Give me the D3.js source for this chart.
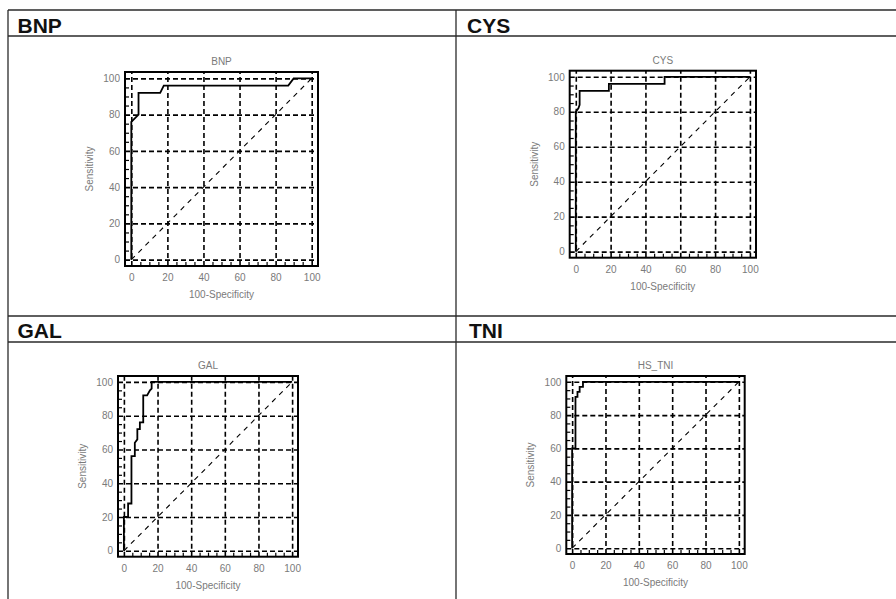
<!DOCTYPE html>
<html>
<head>
<meta charset="utf-8">
<script src="https://cdn.jsdelivr.net/npm/d3@7"></script>
<style>
  body { margin: 0; background: #fff; }
  text { font-family: "Liberation Sans", Arial, sans-serif; }
</style>
</head>
<body>
<div id="chart"></div>
<script>
// Cell headers and the chart titles inside each cell
const panelNames = ["BNP", "CYS", "GAL", "TNI"];
const chartTitles = ["BNP", "CYS", "GAL", "HS_TNI"];

// Axis ticks (both axes use the same)
const ticks = [0, 20, 40, 60, 80, 100];
const minorTicks = [5, 10, 15, 25, 30, 35, 45, 50, 55, 65, 70, 75, 85, 90, 95];

// ROC curves: 100-Specificity (x) and Sensitivity (y)
const bnpX = [0, 0, 4, 4, 16, 18, 87, 90, 100];
const bnpY = [0, 76, 80, 92, 92, 96, 96, 100, 100];

const cysX = [0, 0, 1.5, 2.2, 2.2, 19, 19, 51, 51, 100];
const cysY = [0, 80, 82, 84, 92, 92, 96, 96, 100, 100];

const galX = [0, 0, 2.5, 2.5, 4.5, 4.5, 6.5, 6.5, 8, 8, 9.5, 9.5, 11.5, 11.5, 13.8, 15.5, 16.5, 16.5, 100];
const galY = [0, 20, 20, 28, 28, 56, 56, 64, 66, 72, 72, 76, 76, 92, 92, 95, 96, 100, 100];

const tniX = [0, 0, 2, 2, 3.2, 3.2, 4.5, 4.5, 6.5, 6.5, 100];
const tniY = [0, 60, 60, 91, 91, 94, 94, 97, 97, 100, 100];

const curves = [[bnpX, bnpY], [cysX, cysY], [galX, galY], [tniX, tniY]];

// plot frames (pixel boxes) for the four charts
const frames = [
  { x: 125, y: 72, w: 193, h: 194 },
  { x: 569.7, y: 70.7, w: 186.3, h: 187 },
  { x: 118, y: 376, w: 180, h: 180.7 },
  { x: 566.3, y: 376, w: 178.4, h: 178 }
];
const headerText = [
  { x: 17.5, y: 33 }, { x: 467, y: 33 },
  { x: 17.5, y: 338 }, { x: 469, y: 338 }
];

const width = 896, height = 599;
const svg = d3.select("#chart").append("svg")
  .attr("width", width)
  .attr("height", height);

svg.append("rect").attr("width", width).attr("height", height).attr("fill", "#fff");

// table lines
const tableLine = "#2a2a2a";
const hLines = [10, 36, 316, 342];
hLines.forEach(y => {
  svg.append("line")
    .attr("x1", 8).attr("x2", width).attr("y1", y).attr("y2", y)
    .attr("stroke", tableLine).attr("stroke-width", 1.3);
});
[8, 456].forEach(x => {
  svg.append("line")
    .attr("x1", x).attr("x2", x).attr("y1", 10).attr("y2", height)
    .attr("stroke", tableLine).attr("stroke-width", 1.3);
});

panelNames.forEach((name, i) => {
  svg.append("text")
    .attr("x", headerText[i].x).attr("y", headerText[i].y)
    .attr("font-size", 21).attr("font-weight", "bold").attr("fill", "#111")
    .text(name);
});

const labelColor = "#7a7a7a";

frames.forEach((f, i) => {
  const x = d3.scaleLinear().domain([-3.5, 103.5]).range([f.x, f.x + f.w]);
  const y = d3.scaleLinear().domain([-3.5, 103.5]).range([f.y + f.h, f.y]);
  const g = svg.append("g");

  // grid (dashed) across the whole frame
  g.append("g")
    .attr("transform", `translate(0,${f.y + f.h})`)
    .call(d3.axisBottom(x).tickValues(ticks).tickSize(-f.h).tickFormat(""))
    .call(a => a.select(".domain").remove())
    .selectAll("line")
    .attr("stroke", "#000").attr("stroke-width", 1.6).attr("stroke-dasharray", "5,3");
  g.append("g")
    .attr("transform", `translate(${f.x},0)`)
    .call(d3.axisLeft(y).tickValues(ticks).tickSize(-f.w).tickFormat(""))
    .call(a => a.select(".domain").remove())
    .selectAll("line")
    .attr("stroke", "#000").attr("stroke-width", 1.6).attr("stroke-dasharray", "5,3");

  // minor ticks inside the frame on left and bottom
  g.append("g")
    .attr("transform", `translate(0,${f.y + f.h})`)
    .call(d3.axisBottom(x).tickValues(minorTicks).tickSize(-4).tickFormat(""))
    .call(a => a.select(".domain").remove())
    .selectAll("line").attr("stroke", "#000").attr("stroke-width", 1.2);
  g.append("g")
    .attr("transform", `translate(${f.x},0)`)
    .call(d3.axisLeft(y).tickValues(minorTicks).tickSize(-4).tickFormat(""))
    .call(a => a.select(".domain").remove())
    .selectAll("line").attr("stroke", "#000").attr("stroke-width", 1.2);

  // tick labels
  const xa = g.append("g")
    .attr("transform", `translate(0,${f.y + f.h})`)
    .call(d3.axisBottom(x).tickValues(ticks).tickSize(0).tickPadding(8));
  xa.select(".domain").remove();
  xa.selectAll("text").attr("font-size", 10).attr("fill", labelColor)
    .attr("font-family", "'Liberation Sans', Arial, sans-serif");
  const ya = g.append("g")
    .attr("transform", `translate(${f.x},0)`)
    .call(d3.axisLeft(y).tickValues(ticks).tickSize(0).tickPadding(5));
  ya.select(".domain").remove();
  ya.selectAll("text").attr("font-size", 10).attr("fill", labelColor)
    .attr("font-family", "'Liberation Sans', Arial, sans-serif");

  // diagonal reference line
  g.append("line")
    .attr("x1", x(0)).attr("y1", y(0)).attr("x2", x(100)).attr("y2", y(100))
    .attr("stroke", "#000").attr("stroke-width", 1.1).attr("stroke-dasharray", "5,5");

  // ROC curve
  const [xs, ys] = curves[i];
  const pts = xs.map((v, k) => [v, ys[k]]);
  g.append("path")
    .datum(pts)
    .attr("fill", "none").attr("stroke", "#000").attr("stroke-width", 1.8)
    .attr("d", d3.line().x(d => x(d[0])).y(d => y(d[1])));

  // frame
  g.append("rect")
    .attr("x", f.x).attr("y", f.y).attr("width", f.w).attr("height", f.h)
    .attr("fill", "none").attr("stroke", "#000").attr("stroke-width", 2);

  // titles and axis labels
  g.append("text")
    .attr("x", f.x + f.w / 2).attr("y", f.y - 7)
    .attr("text-anchor", "middle").attr("font-size", 10).attr("fill", labelColor)
    .text(chartTitles[i]);
  g.append("text")
    .attr("x", f.x + f.w / 2).attr("y", f.y + f.h + 32)
    .attr("text-anchor", "middle").attr("font-size", 10).attr("fill", labelColor)
    .text("100-Specificity");
  g.append("text")
    .attr("transform", `translate(${f.x - 32},${f.y + f.h / 2}) rotate(-90)`)
    .attr("text-anchor", "middle").attr("font-size", 10).attr("fill", labelColor)
    .text("Sensitivity");
});
</script>
</body>
</html>
